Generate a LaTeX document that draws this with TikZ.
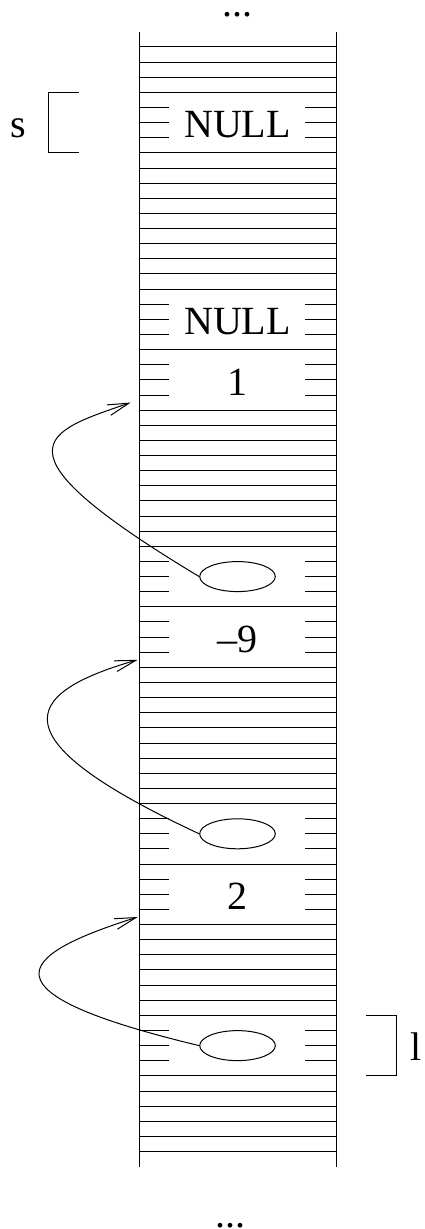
\documentclass[tikz,border=0pt]{standalone}
\usepackage{fontspec}
\setmainfont{Liberation Serif}
\usetikzlibrary{arrows.meta,shapes.geometric}

\begin{document}
\begin{tikzpicture}[x=0.5pt,y=-7.565pt,line width=0.5pt,>={Straight Barb[length=10.5pt,width=5.5pt]},
  val/.style={anchor=base,inner sep=0pt,font=\fontsize{20}{24}\selectfont},
  ptr/.style={draw,ellipse,inner sep=0pt,minimum width=37.8pt,minimum height=15pt}]
\useasboundingbox (0,-3.106) rectangle (424,78.12);
% the memory column
\draw (139,-1) -- (139,74); \draw (336,-1) -- (336,74);
\foreach \a/\b in {0/3,7/16,20/20,24/33,37/37,41/50,54/54,58/64,68/73}
  \foreach \k in {\a,...,\b} \draw (139,\k) -- (336,\k);
\foreach \t in {3,16,20,33,37,50,54,64}
  \foreach \k in {1,2,3} {
    \draw (139,{\t+\k}) -- (169,{\t+\k}); \draw (305,{\t+\k}) -- (336,{\t+\k});
  }
% cell contents
\node[val] (dtop) at (237.5,-2) {...};
\node[val] (null1) at (237.5,6) {NULL};
\node[val] (null2) at (237.5,19) {NULL};
\node[val] (v1) at (237,23) {1};
\node[ptr] (p1) at (237.5,35) {};
\node[val] (v2) at (237.5,40) {–9};
\node[ptr] (p2) at (237.5,52) {};
\node[val] (v3) at (237,57) {2};
\node[ptr] (p3) at (237.5,66) {};
\node[val] (dbot) at (230,78) {...};
% s and l
\node[val] (s) at (18.5,6) {s};
\draw (79,3) -- (48.7,3) -- (48.7,7) -- (79,7);
\node[val] (l) at (415.7,67) {l};
\draw (366,64) -- (396.7,64) -- (396.7,68) -- (366,68);
% links
\coordinate (t1) at (130.7,23.5);
\coordinate (t2) at (137.7,40.5);
\coordinate (t3) at (137.7,57.5);
\draw[->] (p1.west) .. controls +(149:125pt) and +(199:45pt) .. (t1);
\draw[->] (p2.west) .. controls +(155:110pt) and +(196:63pt) .. (t2);
\draw[->] (p3.west) .. controls +(166.5:113pt) and +(197.5:65pt) .. (t3);
\end{tikzpicture}
\end{document}
